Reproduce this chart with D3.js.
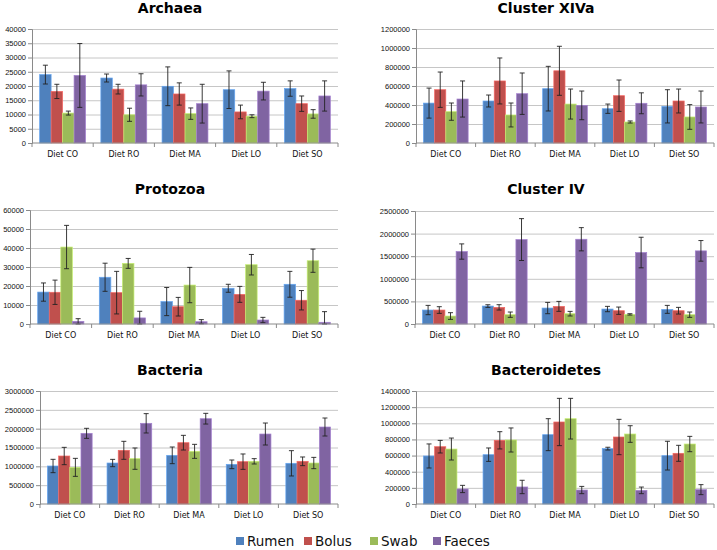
<!DOCTYPE html>
<html lang="en">
<head>
<meta charset="utf-8">
<script src="https://cdn.jsdelivr.net/npm/d3@7"></script>
<style>
  body { margin: 0; background: #fff; }
  svg { font-family: "DejaVu Sans", sans-serif; }
  .grid line { stroke: #c6c6c6; }
  .title { font-weight: bold; font-size: 14px; }
  .tick text { font-size: 7.5px; fill: #111; }
  .legend text { font-size: 13.5px; fill: #111; }
</style>
</head>
<body>
<div id="chart"></div>
<script>
var categories = ["Diet CO", "Diet RO", "Diet MA", "Diet LO", "Diet SO"];
var series = ["Rumen", "Bolus", "Swab", "Faeces"];
var colors = ["#4F81BD", "#C0504D", "#9BBB59", "#8064A2"];

// one row per series (Rumen, Bolus, Swab, Faeces), one value per diet
var archaeaMean = [[24000, 22800, 19900, 18700, 19100], [18100, 18900, 17200, 10900, 13800], [10500, 9900, 10300, 9400, 10200], [23700, 20400, 13800, 18200, 16500]];
var archaeaErr  = [[3300, 1400, 6800, 6600, 2700], [2500, 1700, 3900, 2400, 2700], [700, 2300, 2000, 500, 1500], [11200, 3900, 6800, 3100, 5300]];
var xivaMean = [[420000, 442000, 572000, 361000, 386000], [561000, 653000, 760000, 498000, 442000], [330000, 295000, 410000, 221000, 274000], [463000, 519000, 396000, 418000, 379000]];
var xivaErr  = [[158000, 63000, 235000, 49000, 175000], [186000, 242000, 258000, 165000, 126000], [91000, 126000, 158000, 11000, 130000], [190000, 218000, 151000, 110000, 168000]];
var protozoaMean = [[16800, 24600, 11800, 18800, 20900], [16700, 16500, 9100, 15600, 12500], [40500, 31900, 20500, 31200, 33300], [1400, 3200, 1200, 2100, 900]];
var protozoaErr  = [[4800, 7400, 7400, 2100, 6800], [6400, 11200, 4900, 4200, 5100], [11400, 2600, 9300, 5400, 6100], [1400, 3500, 1100, 1400, 5600]];
var clusterIVMean = [[309000, 397000, 353000, 331000, 324000], [309000, 368000, 390000, 294000, 294000], [176000, 206000, 228000, 213000, 206000], [1603000, 1868000, 1875000, 1581000, 1618000]];
var clusterIVErr  = [[103000, 29000, 125000, 59000, 88000], [74000, 59000, 110000, 81000, 74000], [74000, 59000, 51000, 15000, 59000], [169000, 463000, 257000, 338000, 228000]];
var bacteriaMean = [[1009000, 1088000, 1292000, 1053000, 1080000], [1274000, 1425000, 1628000, 1124000, 1133000], [973000, 1204000, 1398000, 1133000, 1088000], [1876000, 2142000, 2265000, 1858000, 2044000]];
var bacteriaErr  = [[177000, 97000, 221000, 115000, 336000], [230000, 239000, 195000, 204000, 115000], [239000, 283000, 186000, 71000, 150000], [133000, 257000, 142000, 292000, 239000]];
var bactMean = [[595000, 611000, 859000, 686000, 599000], [710000, 789000, 1016000, 830000, 628000], [681000, 793000, 1057000, 867000, 743000], [186000, 211000, 173000, 169000, 178000]];
var bactErr  = [[149000, 83000, 198000, 17000, 178000], [78000, 107000, 293000, 219000, 99000], [136000, 149000, 252000, 103000, 95000], [45000, 83000, 45000, 41000, 62000]];

var panels = [
  {title: "Archaea", mean: archaeaMean, err: archaeaErr, max: 40000, step: 5000, left: 32, right: 338, top: 29, bottom: 143, tx: 170, ty: 13},
  {title: "Cluster XIVa", mean: xivaMean, err: xivaErr, max: 1200000, step: 200000, left: 416, right: 714, top: 29, bottom: 143, tx: 546, ty: 13},
  {title: "Protozoa", mean: protozoaMean, err: protozoaErr, max: 60000, step: 10000, left: 30, right: 338, top: 210, bottom: 324, tx: 170, ty: 194},
  {title: "Cluster IV", mean: clusterIVMean, err: clusterIVErr, max: 2500000, step: 500000, left: 415, right: 714, top: 211, bottom: 324, tx: 546, ty: 194},
  {title: "Bacteria", mean: bacteriaMean, err: bacteriaErr, max: 3000000, step: 500000, left: 40, right: 338, top: 391, bottom: 504, tx: 170, ty: 375},
  {title: "Bacteroidetes", mean: bactMean, err: bactErr, max: 1400000, step: 200000, left: 416, right: 714, top: 391, bottom: 504, tx: 546, ty: 375}
];

var width = 717, height = 550;
var svg = d3.select("#chart").append("svg")
  .attr("width", width)
  .attr("height", height);

panels.forEach(drawPanel);

function drawPanel(p) {
  var g = svg.append("g");

  var y = d3.scaleLinear().domain([0, p.max]).range([p.bottom, p.top]);
  var x0 = d3.scaleBand().domain(categories).range([p.left, p.right]).padding(0);
  var bw = x0.bandwidth();
  var x1 = d3.scaleBand().domain(series).range([bw * 0.125, bw * 0.875]).padding(0);

  g.append("text")
    .attr("class", "title")
    .attr("x", p.tx)
    .attr("y", p.ty)
    .attr("text-anchor", "middle")
    .text(p.title);

  // gridlines
  g.append("g")
    .attr("class", "grid")
    .attr("transform", "translate(" + p.left + ",0)")
    .call(d3.axisLeft(y).tickValues(d3.range(p.step, p.max + 1, p.step)).tickSize(-(p.right - p.left)).tickFormat(""))
    .call(a => a.select(".domain").remove());

  // y axis
  g.append("g")
    .attr("transform", "translate(" + p.left + ",0)")
    .call(d3.axisLeft(y).tickValues(d3.range(0, p.max + 1, p.step)).tickFormat(d3.format("d")).tickSize(4).tickPadding(2))
    .call(a => a.select(".domain").attr("stroke", "#8a8a8a"))
    .call(a => a.selectAll(".tick line").attr("stroke", "#8a8a8a"));

  // bars
  var groups = g.selectAll(".grp")
    .data(categories)
    .enter().append("g")
    .attr("transform", d => "translate(" + x0(d) + ",0)");

  series.forEach(function(s, si) {
    groups.append("rect")
      .attr("x", x1(s))
      .attr("width", x1.bandwidth())
      .attr("y", (d, ci) => y(p.mean[si][ci]))
      .attr("height", (d, ci) => p.bottom - y(p.mean[si][ci]))
      .attr("fill", colors[si])
      .attr("stroke", d3.color(colors[si]).brighter(0.7))
      .attr("stroke-width", 0.7);

    var cx = x1(s) + x1.bandwidth() / 2;
    groups.append("line")
      .attr("x1", cx).attr("x2", cx)
      .attr("y1", (d, ci) => y(p.mean[si][ci] + p.err[si][ci]))
      .attr("y2", (d, ci) => y(Math.max(0, p.mean[si][ci] - p.err[si][ci])))
      .attr("stroke", "#222").attr("stroke-width", 0.9);
    [1, -1].forEach(function(sign) {
      groups.append("line")
        .attr("x1", cx - 2.5).attr("x2", cx + 2.5)
        .attr("y1", (d, ci) => y(Math.max(0, p.mean[si][ci] + sign * p.err[si][ci])))
        .attr("y2", (d, ci) => y(Math.max(0, p.mean[si][ci] + sign * p.err[si][ci])))
        .attr("stroke", "#222").attr("stroke-width", 0.9);
    });
  });

  // x axis, ticks between categories
  var xa = g.append("g").attr("transform", "translate(0," + p.bottom + ")");
  xa.append("line")
    .attr("x1", p.left).attr("x2", p.right)
    .attr("stroke", "#8a8a8a");
  xa.selectAll(".sep")
    .data(d3.range(categories.length + 1))
    .enter().append("line")
    .attr("x1", i => p.left + i * bw).attr("x2", i => p.left + i * bw)
    .attr("y1", 0).attr("y2", 4)
    .attr("stroke", "#8a8a8a");
  xa.selectAll(".lab")
    .data(categories)
    .enter().append("text")
    .attr("x", d => x0(d) + bw / 2)
    .attr("y", 14)
    .attr("text-anchor", "middle")
    .style("font-size", "8px")
    .style("fill", "#111")
    .text(d => d);
}

// legend
var legend = svg.append("g").attr("class", "legend");
var legendX = [236, 304, 370, 433];
series.forEach(function(s, i) {
  legend.append("rect")
    .attr("x", legendX[i]).attr("y", 537)
    .attr("width", 8).attr("height", 8)
    .attr("fill", colors[i]);
  legend.append("text")
    .attr("x", legendX[i] + 11).attr("y", 546)
    .text(s);
});
</script>
</body>
</html>
